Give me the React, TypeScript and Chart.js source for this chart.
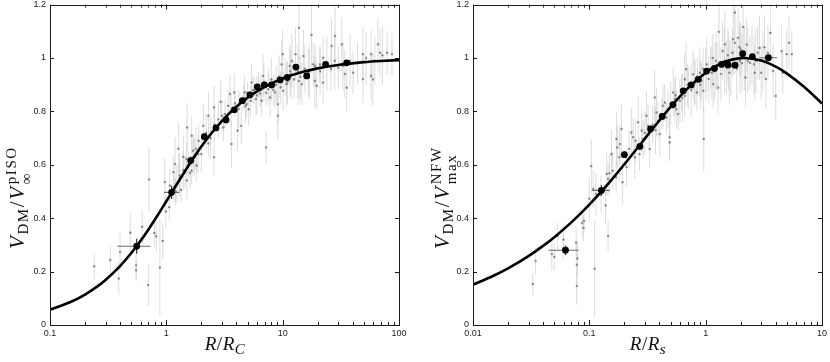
import React, { useEffect, useRef } from 'react';
import { Chart, registerables } from 'chart.js';

Chart.register(...registerables);

// ---------------- Left panel (pseudo-isothermal) ----------------
const leftXTickMajors = [0.1, 1, 10, 100];
const leftXTickLabels = ['0.1', '1', '10', '100'];
const yTickValues = [0, 0.2, 0.4, 0.6, 0.8, 1, 1.2];
const yTickLabels = ['0', '0.2', '0.4', '0.6', '0.8', '1', '1.2'];
const minorMultipliers = [1, 2, 3, 4, 5, 6, 7, 8, 9];

const leftCurveX = [0.1, 0.15, 0.2, 0.25, 0.3, 0.4, 0.5, 0.6, 0.7, 0.85, 1, 1.2, 1.5, 1.7, 2, 2.5, 3, 4, 5, 7, 10, 15, 20, 30, 50, 70, 100];
const leftCurveY = [0.0575, 0.086, 0.1141, 0.1417, 0.1688, 0.2208, 0.2696, 0.3151, 0.3571, 0.4137, 0.4633, 0.5196, 0.5872, 0.6235, 0.6682, 0.7238, 0.764, 0.8176, 0.8517, 0.8921, 0.9235, 0.9485, 0.9612, 0.974, 0.9844, 0.9888, 0.9922];

const leftBlackX = [0.556, 1.11, 1.62, 2.12, 2.67, 3.26, 3.84, 4.5, 5.24, 6.05, 6.95, 8.05, 9.5, 10.96, 13.0, 16.1, 23.4, 35.5];
const leftBlackY = [0.295, 0.497, 0.616, 0.705, 0.738, 0.768, 0.806, 0.84, 0.862, 0.892, 0.899, 0.899, 0.918, 0.927, 0.966, 0.933, 0.976, 0.982];
const leftBlackErr = [0.028, 0.025, 0.015, 0.012, 0.01, 0.01, 0.01, 0.008, 0.008, 0.008, 0.008, 0.008, 0.008, 0.008, 0.01, 0.01, 0.01, 0.01];
const leftHBarY = [0.295, 0.497];
const leftHBarLo = [0.38, 0.955];
const leftHBarHi = [0.73, 1.29];

const leftGrayX = [
  0.24, 0.33, 0.39, 0.40, 0.49, 0.55, 0.55, 0.62, 0.70, 0.71, 0.79, 0.82, 0.88, 0.93, 0.99, 0.97, 1.07, 1.16, 1.23, 1.30,
  1.34, 1.45, 1.50, 1.06, 1.19, 1.40, 1.70, 1.82, 1.65, 1.15, 1.27, 1.51, 1.65, 1.70, 1.49, 1.88, 2.08, 2.30, 2.57, 2.57,
  2.93, 3.00, 3.53, 3.40, 3.63, 3.84, 4.10, 4.40, 4.70, 4.90, 5.10, 5.40, 5.55, 5.90, 6.40, 6.60, 6.80, 7.50, 7.80, 8.60,
  9.10, 9.10, 9.80, 10.1, 10.8, 11.6, 12.0, 12.9, 13.8, 13.8, 14.6, 15.1, 16.6, 17.7, 18.3, 19.6, 20.9, 22.3, 26.3, 28.2,
  30.1, 32.2, 35.5, 40.3, 49, 49, 57.5, 66, 68.7, 79, 57.5, 7.2, 87, 59.6, 22.3, 34.2, 11.5, 10, 18.9,
  3.2, 3.6, 3.9, 4.2, 4.6, 4.8, 5.0, 5.3, 5.7, 6.0, 6.2, 6.5, 6.9, 7.2, 7.6, 8.0, 8.3, 8.8, 9.3, 9.6,
  10.5, 11.0, 11.8, 12.5, 13.5, 14.2, 15.5, 17, 19, 21, 24, 26, 28, 33, 38, 44, 52, 62, 72,
  2.2, 2.4, 2.6, 2.8, 3.1, 1.8, 1.9, 2.0, 2.3, 1.3, 1.4, 1.55, 1.6, 1.75, 1.2
];
const leftGrayY = [
  0.22, 0.243, 0.174, 0.274, 0.346, 0.224, 0.205, 0.368, 0.15, 0.545, 0.344, 0.332, 0.215, 0.315, 0.425, 0.535, 0.522, 0.51, 0.529, 0.56,
  0.506, 0.572, 0.541, 0.441, 0.603, 0.63, 0.628, 0.597, 0.578, 0.572, 0.66, 0.74, 0.709, 0.653, 0.622, 0.64, 0.746, 0.784, 0.815, 0.628,
  0.836, 0.784, 0.865, 0.821, 0.678, 0.871, 0.728, 0.746, 0.871, 0.827, 0.808, 0.908, 0.879, 0.846, 0.867, 0.84, 0.933, 0.883, 0.852, 0.871,
  0.827, 0.784, 0.976, 0.877, 0.902, 0.951, 0.989, 1.014, 0.914, 1.113, 0.902, 1.007, 0.945, 1.086, 0.976, 0.896, 0.976, 1.001, 1.045, 1.082,
  0.964, 1.051, 0.889, 0.945, 1.014, 0.921, 0.933, 1.051, 1.02, 1.02, 1.014, 0.665, 1.014, 0.92, 0.908, 0.94, 0.97, 1.014, 0.914,
  0.79, 0.80, 0.83, 0.81, 0.85, 0.82, 0.87, 0.84, 0.88, 0.86, 0.90, 0.88, 0.91, 0.87, 0.90, 0.92, 0.88, 0.90, 0.93, 0.89,
  0.93, 0.91, 0.94, 0.92, 0.95, 0.93, 0.96, 0.95, 0.97, 0.95, 0.98, 0.96, 0.99, 0.97, 0.99, 0.98, 1.0, 0.99, 1.01,
  0.72, 0.70, 0.75, 0.77, 0.74, 0.66, 0.69, 0.64, 0.68, 0.55, 0.58, 0.60, 0.57, 0.63, 0.50
];
const leftGrayErr = [
  0.05, 0.05, 0.06, 0.07, 0.07, 0.05, 0.04, 0.06, 0.08, 0.12, 0.05, 0.06, 0.18, 0.07, 0.06, 0.09, 0.06, 0.05, 0.07, 0.08,
  0.05, 0.06, 0.07, 0.05, 0.1, 0.08, 0.07, 0.06, 0.05, 0.06, 0.1, 0.09, 0.07, 0.06, 0.06, 0.07, 0.08, 0.09, 0.08, 0.07,
  0.08, 0.06, 0.07, 0.06, 0.09, 0.07, 0.08, 0.07, 0.06, 0.05, 0.06, 0.07, 0.05, 0.06, 0.05, 0.06, 0.08, 0.06, 0.07, 0.06,
  0.08, 0.09, 0.09, 0.07, 0.08, 0.09, 0.1, 0.1, 0.09, 0.12, 0.08, 0.1, 0.09, 0.12, 0.08, 0.09, 0.07, 0.08, 0.1, 0.11,
  0.08, 0.1, 0.09, 0.08, 0.1, 0.09, 0.09, 0.1, 0.09, 0.08, 0.09, 0.06, 0.08, 0.1, 0.08, 0.09, 0.08, 0.09, 0.1,
  0.05, 0.06, 0.05, 0.07, 0.05, 0.06, 0.04, 0.06, 0.05, 0.07, 0.05, 0.06, 0.07, 0.05, 0.06, 0.08, 0.06, 0.07, 0.08, 0.06,
  0.07, 0.08, 0.09, 0.07, 0.1, 0.08, 0.09, 0.1, 0.08, 0.09, 0.1, 0.08, 0.11, 0.09, 0.1, 0.08, 0.1, 0.09, 0.11,
  0.07, 0.08, 0.06, 0.07, 0.05, 0.08, 0.06, 0.07, 0.05, 0.06, 0.07, 0.05, 0.06, 0.07, 0.05
];

// ---------------- Right panel (NFW) ----------------
const rightXTickMajors = [0.01, 0.1, 1, 10];
const rightXTickLabels = ['0.01', '0.1', '1', '10'];

const rightCurveX = [0.01, 0.015, 0.02, 0.03, 0.04, 0.05, 0.07, 0.1, 0.15, 0.2, 0.25, 0.3, 0.4, 0.5, 0.7, 1, 1.2, 1.5, 2, 2.16, 3, 4, 5, 7, 10];
const rightCurveY = [0.1511, 0.1844, 0.2122, 0.2582, 0.2963, 0.3291, 0.3845, 0.4512, 0.5363, 0.6017, 0.6543, 0.6979, 0.7661, 0.8168, 0.8862, 0.9451, 0.9678, 0.9875, 0.9994, 1.0, 0.9904, 0.9674, 0.9416, 0.8921, 0.8298];

const rightBlackX = [0.0624, 0.127, 0.2, 0.272, 0.336, 0.423, 0.523, 0.641, 0.751, 0.864, 1.02, 1.19, 1.37, 1.56, 1.79, 2.08, 2.52, 3.46];
const rightBlackY = [0.28, 0.504, 0.638, 0.669, 0.734, 0.781, 0.825, 0.877, 0.899, 0.92, 0.951, 0.961, 0.976, 0.974, 0.973, 1.016, 1.005, 1.001];
const rightBlackErr = [0.018, 0.02, 0.012, 0.012, 0.01, 0.01, 0.008, 0.008, 0.008, 0.008, 0.008, 0.008, 0.008, 0.008, 0.01, 0.01, 0.01, 0.01];
const rightHBarY = [0.28, 0.504, 0.638, 0.669, 1.001];
const rightHBarLo = [0.0446, 0.106, 0.185, 0.255, 2.9];
const rightHBarHi = [0.081, 0.15, 0.215, 0.29, 4.1];

const rightGrayX = [
  0.0327, 0.0345, 0.0476, 0.05, 0.0535, 0.0594, 0.06, 0.077, 0.078, 0.078, 0.079, 0.0868, 0.089, 0.09, 0.104, 0.111, 0.114, 0.138, 0.145, 0.126,
  0.141, 0.149, 0.159, 0.17, 0.181, 0.145, 0.1, 0.108, 0.155, 0.171, 0.174, 0.183, 0.189, 0.193, 0.209, 0.23, 0.238, 0.246, 0.263, 0.282,
  0.29, 0.31, 0.32, 0.33, 0.365, 0.378, 0.39, 0.403, 0.43, 0.445, 0.46, 0.475, 0.49, 0.49, 0.527, 0.544, 0.56, 0.58, 0.6, 0.62,
  0.66, 0.66, 0.68, 0.71, 0.78, 0.81, 0.84, 0.89, 0.92, 0.955, 0.963, 1.02, 1.06, 1.13, 1.16, 1.23, 1.28, 1.3, 1.4, 1.46,
  1.51, 1.57, 1.6, 1.72, 1.78, 1.9, 1.97, 2.0, 2.1, 2.2, 2.3, 2.4, 2.6, 2.64, 2.9, 3.0, 3.3, 3.43, 3.6, 3.8,
  4.0, 4.5, 4.6, 4.97, 5.2, 5.5, 1.78,
  0.22, 0.25, 0.27, 0.3, 0.35, 0.37, 0.42, 0.5, 0.55, 0.63, 0.7, 0.75, 0.85, 0.9, 1.0, 1.1, 1.2, 1.25, 1.35, 1.45,
  1.55, 1.65, 1.7, 1.85, 1.95, 2.05, 2.15, 2.25, 2.5, 2.7, 2.8, 3.1, 3.2, 1.15, 0.95, 0.8
];
const rightGrayY = [
  0.153, 0.24, 0.265, 0.255, 0.333, 0.284, 0.32, 0.309, 0.226, 0.146, 0.249, 0.382, 0.364, 0.39, 0.595, 0.211, 0.491, 0.448, 0.333, 0.488,
  0.566, 0.568, 0.578, 0.553, 0.628, 0.547, 0.473, 0.51, 0.64, 0.697, 0.665, 0.678, 0.734, 0.535, 0.591, 0.721, 0.703, 0.628, 0.759, 0.728,
  0.697, 0.784, 0.746, 0.659, 0.852, 0.796, 0.765, 0.715, 0.821, 0.833, 0.777, 0.808, 0.703, 0.684, 0.871, 0.846, 0.808, 0.79, 0.84, 0.871,
  0.92, 0.858, 0.958, 0.889, 0.939, 0.908, 0.871, 0.945, 0.914, 0.877, 0.697, 0.976, 0.921, 0.945, 0.902, 0.989, 0.889, 1.098, 1.026, 1.051,
  0.964, 0.989, 0.945, 1.07, 1.057, 1.076, 0.989, 1.032, 1.116, 0.927, 0.989, 0.982, 0.976, 0.945, 1.038, 0.945, 0.921, 1.02, 1.094, 0.951,
  0.858, 1.026, 0.945, 1.014, 1.057, 1.014, 1.17,
  0.66, 0.69, 0.64, 0.72, 0.75, 0.73, 0.79, 0.83, 0.86, 0.85, 0.9, 0.88, 0.93, 0.9, 0.94, 0.96, 0.95, 0.97, 0.94, 0.99,
  1.01, 0.97, 1.02, 0.96, 1.04, 0.98, 1.0, 1.05, 1.01, 0.99, 1.02, 0.99, 1.04, 1.0, 0.96, 0.91
];
const rightGrayErr = [
  0.04, 0.05, 0.06, 0.05, 0.05, 0.04, 0.05, 0.06, 0.08, 0.07, 0.06, 0.05, 0.05, 0.04, 0.1, 0.18, 0.08, 0.07, 0.06, 0.07,
  0.08, 0.07, 0.07, 0.06, 0.09, 0.06, 0.08, 0.07, 0.09, 0.1, 0.08, 0.07, 0.09, 0.08, 0.07, 0.09, 0.07, 0.08, 0.1, 0.08,
  0.07, 0.09, 0.08, 0.07, 0.1, 0.09, 0.07, 0.08, 0.08, 0.07, 0.06, 0.07, 0.09, 0.06, 0.09, 0.08, 0.07, 0.06, 0.08, 0.07,
  0.1, 0.08, 0.1, 0.08, 0.09, 0.08, 0.07, 0.09, 0.07, 0.08, 0.12, 0.1, 0.09, 0.1, 0.09, 0.11, 0.1, 0.12, 0.11, 0.12,
  0.1, 0.11, 0.12, 0.13, 0.12, 0.11, 0.12, 0.1, 0.12, 0.11, 0.12, 0.1, 0.11, 0.1, 0.12, 0.1, 0.11, 0.1, 0.12, 0.1,
  0.09, 0.1, 0.08, 0.09, 0.1, 0.08, 0.1,
  0.07, 0.08, 0.06, 0.08, 0.07, 0.09, 0.06, 0.08, 0.07, 0.09, 0.08, 0.1, 0.07, 0.09, 0.1, 0.08, 0.11, 0.09, 0.1, 0.12,
  0.1, 0.11, 0.09, 0.12, 0.1, 0.11, 0.12, 0.1, 0.11, 0.12, 0.1, 0.11, 0.12, 0.09, 0.08, 0.09
];

// ---------------- rendering ----------------
const TICK_FONT = { family: "'Liberation Sans', Arial, Helvetica, sans-serif", size: 9 };
const MATH_FONT = "'Liberation Serif', 'Times New Roman', serif";
const FRAME = '#1a1a1a';

const isMajor = (v: number) => Math.abs(Math.log10(v) - Math.round(Math.log10(v))) < 1e-9;

const frameTicks = {
  id: 'frameTicks',
  afterDatasetsDraw(chart: any) {
    const { ctx, chartArea: a, scales } = chart;
    const xs = scales.x;
    const ys = scales.y;
    ctx.save();
    ctx.strokeStyle = FRAME;
    ctx.lineWidth = 1;
    ctx.beginPath();
    xs.ticks.forEach((t: any) => {
      const p = Math.round(xs.getPixelForValue(t.value)) + 0.5;
      const len = isMajor(t.value) ? 5 : 3;
      ctx.moveTo(p, a.bottom);
      ctx.lineTo(p, a.bottom - len);
      ctx.moveTo(p, a.top);
      ctx.lineTo(p, a.top + len);
    });
    ys.ticks.forEach((t: any) => {
      const p = Math.round(ys.getPixelForValue(t.value)) + 0.5;
      ctx.moveTo(a.left, p);
      ctx.lineTo(a.left + 4, p);
      ctx.moveTo(a.right, p);
      ctx.lineTo(a.right - 4, p);
    });
    ctx.stroke();
    ctx.strokeRect(
      Math.round(a.left) + 0.5,
      Math.round(a.top) + 0.5,
      Math.round(a.right - a.left),
      Math.round(a.bottom - a.top)
    );
    ctx.restore();
  },
};

interface PanelSpec {
  majors: number[];
  majorLabels: string[];
  yAxisWidth: number;
  padRight: number;
  cx: number[]; cy: number[];
  bx: number[]; by: number[]; be: number[];
  hy: number[]; hLo: number[]; hHi: number[];
  gx: number[]; gy: number[]; ge: number[];
}

function buildChart(canvas: HTMLCanvasElement, p: PanelSpec) {
  const xTicks: number[] = [];
  for (let d = 0; d < p.majors.length - 1; d++) {
    minorMultipliers.forEach((m) => xTicks.push(p.majors[d] * m));
  }
  xTicks.push(p.majors[p.majors.length - 1]);

  const gray = p.gx.map((x, i) => ({ x, y: p.gy[i] }));
  const grayErr = p.gx.flatMap((x, i) => [
    { x, y: p.gy[i] - p.ge[i] },
    { x, y: p.gy[i] + p.ge[i] },
    { x, y: null },
  ]);
  const black = p.bx.map((x, i) => ({ x, y: p.by[i] }));
  const blackErr = p.bx.flatMap((x, i) => [
    { x, y: p.by[i] - p.be[i] },
    { x, y: p.by[i] + p.be[i] },
    { x, y: null },
  ]);
  const hBars = p.hy.flatMap((y, i) => [
    { x: p.hLo[i], y },
    { x: p.hHi[i], y },
    { x: p.hHi[i], y: null },
  ]);
  const curve = p.cx.map((x, i) => ({ x, y: p.cy[i] }));

  return new Chart(canvas, {
    type: 'scatter',
    data: {
      datasets: [
        {
          type: 'line', data: grayErr as any, order: 6, borderColor: 'rgba(205,205,205,0.7)', borderWidth: 1,
          pointRadius: 0, spanGaps: false, tension: 0,
        },
        {
          type: 'scatter', data: gray, order: 5, pointRadius: 1.1, pointStyle: 'rect',
          backgroundColor: 'rgba(115,115,115,0.8)', borderColor: 'rgba(115,115,115,0.8)', borderWidth: 0.6,
        },
        {
          type: 'line', data: curve, order: 4, borderColor: '#000', borderWidth: 2.6, pointRadius: 0,
          cubicInterpolationMode: 'monotone', fill: false,
        },
        {
          type: 'line', data: hBars as any, order: 3, borderColor: '#6a6a6a', borderWidth: 1.2,
          pointRadius: 0, spanGaps: false, tension: 0,
        },
        {
          type: 'line', data: blackErr as any, order: 2, borderColor: '#333', borderWidth: 1.2,
          pointRadius: 0, spanGaps: false, tension: 0,
        },
        {
          type: 'scatter', data: black, order: 1, pointRadius: 3.4, backgroundColor: '#000', borderColor: '#000', borderWidth: 0,
        },
      ],
    },
    options: {
      animation: false,
      responsive: false,
      events: [],
      layout: { padding: { left: 0, right: p.padRight, top: 3, bottom: 0 } },
      plugins: { legend: { display: false }, tooltip: { enabled: false } },
      scales: {
        x: {
          type: 'logarithmic',
          min: p.majors[0],
          max: p.majors[p.majors.length - 1],
          grid: { display: false, drawTicks: false },
          border: { display: false },
          afterBuildTicks: (s: any) => {
            s.ticks = xTicks.map((v) => ({ value: v }));
          },
          afterFit: (s: any) => {
            s.height = 37;
            s.paddingLeft = 0;
            s.paddingRight = 0;
          },
          ticks: {
            autoSkip: false,
            maxRotation: 0,
            padding: 3,
            color: '#222',
            font: TICK_FONT,
            callback: (v: any) => {
              const k = p.majors.findIndex((m) => Math.abs(m - v) < m * 1e-6);
              return k >= 0 ? p.majorLabels[k] : '';
            },
          },
        },
        y: {
          type: 'linear',
          min: 0,
          max: 1.2,
          grid: { display: false, drawTicks: false },
          border: { display: false },
          afterBuildTicks: (s: any) => {
            s.ticks = yTickValues.map((v) => ({ value: v }));
          },
          afterFit: (s: any) => {
            s.width = p.yAxisWidth;
            s.paddingTop = 0;
            s.paddingBottom = 0;
          },
          ticks: {
            padding: 4,
            color: '#222',
            font: TICK_FONT,
            callback: (_v: any, i: number) => yTickLabels[i],
          },
        },
      },
    },
    plugins: [frameTicks],
  } as any);
}

function ChartCanvas({ spec, left }: { spec: PanelSpec; left: number }) {
  const ref = useRef<HTMLCanvasElement | null>(null);
  useEffect(() => {
    if (!ref.current) return;
    const chart = buildChart(ref.current, spec);
    return () => chart.destroy();
  }, [spec]);
  return (
    <canvas
      ref={ref}
      width={415}
      height={362}
      style={{ position: 'absolute', left, top: 0, width: 415, height: 362 }}
    />
  );
}

const leftSpec: PanelSpec = {
  majors: leftXTickMajors, majorLabels: leftXTickLabels, yAxisWidth: 50, padRight: 16,
  cx: leftCurveX, cy: leftCurveY,
  bx: leftBlackX, by: leftBlackY, be: leftBlackErr,
  hy: leftHBarY, hLo: leftHBarLo, hHi: leftHBarHi,
  gx: leftGrayX, gy: leftGrayY, ge: leftGrayErr,
};
const rightSpec: PanelSpec = {
  majors: rightXTickMajors, majorLabels: rightXTickLabels, yAxisWidth: 58, padRight: 8,
  cx: rightCurveX, cy: rightCurveY,
  bx: rightBlackX, by: rightBlackY, be: rightBlackErr,
  hy: rightHBarY, hLo: rightHBarLo, hHi: rightHBarHi,
  gx: rightGrayX, gy: rightGrayY, ge: rightGrayErr,
};

const subStyle: React.CSSProperties = { fontSize: 15, fontStyle: 'normal', verticalAlign: '-4px' };

function Stack({ sup, sub }: { sup: string; sub: string }) {
  return (
    <span
      style={{
        display: 'inline-flex', flexDirection: 'column', verticalAlign: 'middle',
        fontSize: 15, lineHeight: '15px', fontStyle: 'normal', marginLeft: 1,
      }}
    >
      <span>{sup}</span>
      <span>{sub}</span>
    </span>
  );
}

// Rotated title anchored at its start (bottom end) and growing upwards.
function YTitle({ cx, bottom, children }: { cx: number; bottom: number; children: React.ReactNode }) {
  return (
    <div style={{ position: 'absolute', left: cx, top: bottom, width: 0, height: 0 }}>
      <div
        style={{
          position: 'absolute', left: 0, top: -16, height: 32, transformOrigin: '0 50%',
          transform: 'rotate(-90deg)', whiteSpace: 'nowrap', fontFamily: MATH_FONT,
          fontSize: 21, lineHeight: '32px', color: '#111', letterSpacing: '1.6px',
        }}
      >
        {children}
      </div>
    </div>
  );
}

function XTitle({ cx, children }: { cx: number; children: React.ReactNode }) {
  return (
    <div style={{ position: 'absolute', left: cx, top: 346, width: 0, height: 0 }}>
      <div
        style={{
          position: 'absolute', left: 0, top: 0, transform: 'translate(-50%, -50%)',
          whiteSpace: 'nowrap', fontFamily: MATH_FONT, fontSize: 19, lineHeight: '22px', color: '#111',
          letterSpacing: '0.5px',
        }}
      >
        {children}
      </div>
    </div>
  );
}

export default function App() {
  return (
    <div style={{ position: 'fixed', left: 0, top: 0, width: 830, height: 362, background: '#fff', overflow: 'hidden' }}>
      <ChartCanvas spec={leftSpec} left={0} />
      <ChartCanvas spec={rightSpec} left={415} />
      <YTitle cx={17} bottom={249}>
        <i>V</i><span style={subStyle}>DM</span>/<i>V</i><Stack sup="pISO" sub="∞" />
      </YTitle>
      <YTitle cx={442} bottom={249}>
        <i>V</i><span style={subStyle}>DM</span>/<i>V</i><Stack sup="NFW" sub="max" />
      </YTitle>
      <XTitle cx={225}>
        <i>R</i>/<i>R</i><span style={{ ...subStyle, fontStyle: 'italic' }}>C</span>
      </XTitle>
      <XTitle cx={648}>
        <i>R</i>/<i>R</i><span style={{ ...subStyle, fontStyle: 'italic' }}>s</span>
      </XTitle>
    </div>
  );
}
